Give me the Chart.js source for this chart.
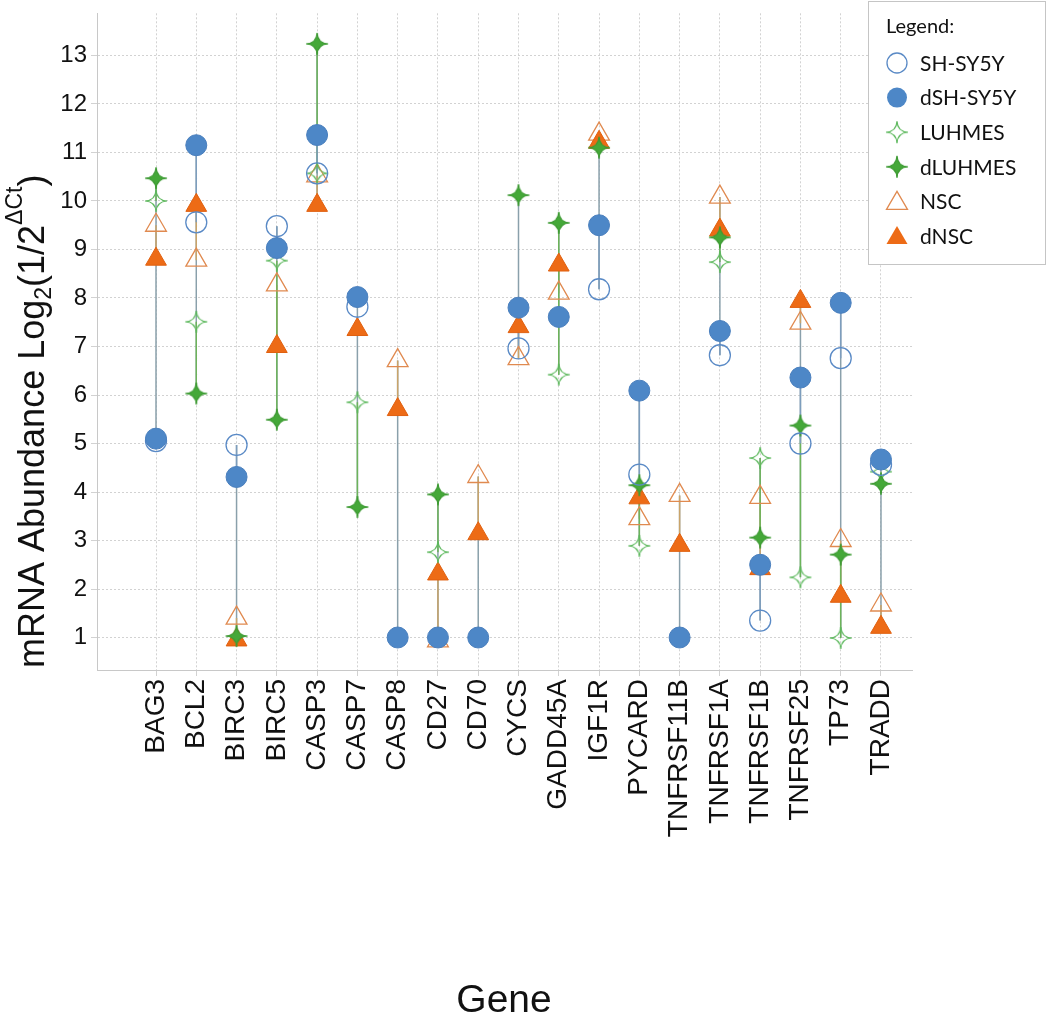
<!DOCTYPE html>
<html>
<head>
<meta charset="utf-8">
<script src="https://cdn.jsdelivr.net/npm/chart.js@4.4.1/dist/chart.umd.min.js"></script>
<style>
  html, body { margin: 0; background: #fff; }
  #wrap { position: relative; width: 1050px; height: 1021px; }
</style>
</head>
<body>
<div id="wrap"><canvas id="chart"></canvas></div>
<script>
/* mRNA abundance per gene, six cell states */
const genes = ['BAG3', 'BCL2', 'BIRC3', 'BIRC5', 'CASP3', 'CASP7', 'CASP8', 'CD27', 'CD70', 'CYCS',
  'GADD45A', 'IGF1R', 'PYCARD', 'TNFRSF11B', 'TNFRSF1A', 'TNFRSF1B', 'TNFRSF25', 'TP73', 'TRADD'];

const shsy5y  = [5.05, 9.56, 4.97, 9.48, 10.57, 7.82, null, null, null, 6.96, null, 8.18, 4.36, null, 6.82, 1.35, 5.00, 6.76, 4.56];
const dshsy5y = [5.10, 11.15, 4.31, 9.03, 11.36, 8.02, 1.00, 1.00, 1.00, 7.80, 7.61, 9.50, 6.09, 1.00, 7.32, 2.50, 6.36, 7.90, 4.67];
const luhmes  = [10.00, 7.51, null, 8.77, 10.57, 5.85, null, 2.76, null, null, 6.42, null, 2.89, null, 8.74, 4.70, 2.24, 0.99, 4.42];
const dluhmes = [10.47, 6.03, 1.03, 5.49, 13.24, 3.69, null, 3.95, null, 10.12, 9.55, 11.10, 4.14, null, 9.25, 3.06, 5.37, 2.71, 4.17];
const nsc     = [9.50, 8.78, 1.40, 8.27, 10.52, null, 6.71, 0.93, 4.32, 6.75, 8.10, 11.38, 3.45, 3.93, 10.08, 3.89, 7.48, 3.00, 1.67];
const dnsc    = [8.80, 9.91, 0.95, 7.00, 9.91, 7.35, 5.70, 2.31, 3.14, 7.41, 8.68, 11.21, 3.88, 2.90, 9.40, 2.42, 7.93, 1.85, 1.21];

const yTicks = [1, 2, 3, 4, 5, 6, 7, 8, 9, 10, 11, 12, 13];

const BLUE = '#4d87c7', BLUE_L = '#5a8ac6', GREEN = '#45a839', GREEN_L = '#5cb85c', ORANGE = '#ed6b16', ORANGE_L = '#e08a50';
const GRID = '#d2d2d2', AXIS = '#c8c8c8', INK = '#111';
const SANS = '"Liberation Sans", Arial, sans-serif';

function starImage(fill, stroke, r) {
  const c = document.createElement('canvas');
  const s = Math.ceil(r * 2 + 4);
  c.width = c.height = s;
  const g = c.getContext('2d');
  const m = s / 2, k = r * 0.05;
  g.beginPath();
  g.moveTo(m, m - r);
  g.quadraticCurveTo(m + k, m - k, m + r, m);
  g.quadraticCurveTo(m + k, m + k, m, m + r);
  g.quadraticCurveTo(m - k, m + k, m - r, m);
  g.quadraticCurveTo(m - k, m - k, m, m - r);
  g.closePath();
  if (fill) { g.fillStyle = fill; g.fill(); }
  g.lineWidth = 1.2; g.strokeStyle = stroke; g.stroke();
  return c;
}
const starOpen = starImage(null, GREEN_L, 11);
const starFull = starImage(GREEN, '#3d9a33', 11);

const pts = arr => arr.map((v, i) => ({ x: i, y: v }));

// vertical connector segments, broken by null points
function segs(groups) {
  const out = [];
  genes.forEach((g, i) => {
    const vals = groups.map(a => a[i]).filter(v => v != null);
    if (vals.length < 2) return;
    out.push({ x: i, y: Math.min(...vals) }, { x: i, y: Math.max(...vals) }, { x: i, y: null });
  });
  return out;
}
const lineDs = (data, color, order) => ({
  data, showLine: true, borderColor: color, borderWidth: 1.5, pointRadius: 0, spanGaps: false, order,
});

const legendItems = [
  ['SH-SY5Y', 'circle', false], ['dSH-SY5Y', 'circle', true],
  ['LUHMES', 'star', false], ['dLUHMES', 'star', true],
  ['NSC', 'triangle', false], ['dNSC', 'triangle', true],
];

const extras = {
  id: 'extras',
  afterDraw(chart) {
    const ctx = chart.ctx;
    ctx.save();
    // y title with subscript / superscript
    ctx.translate(44, 668);
    ctx.rotate(-Math.PI / 2);
    ctx.fillStyle = INK;
    ctx.textBaseline = 'alphabetic';
    ctx.textAlign = 'left';
    const big = '36px ' + SANS, small = '23px ' + SANS;
    let x = 0;
    const put = (t, f, dy) => { ctx.font = f; ctx.fillText(t, x, dy); x += ctx.measureText(t).width; };
    put('mRNA Abundance Log', big, 0);
    put('2', small, 7);
    put('(1/2', big, 0);
    put('\u0394Ct', small, -22);
    put(')', big, 0);
    ctx.restore();

    // x title
    ctx.save();
    ctx.fillStyle = INK;
    ctx.font = '39px ' + SANS;
    ctx.textAlign = 'center';
    ctx.textBaseline = 'middle';
    ctx.fillText('Gene', 504, 1001);
    ctx.restore();

    // legend box
    ctx.save();
    ctx.fillStyle = '#fff';
    ctx.fillRect(868, 1, 178, 264);
    ctx.setLineDash([1, 1]);
    ctx.strokeStyle = '#8a8a8a';
    ctx.lineWidth = 1;
    ctx.strokeRect(868.5, 1.5, 177, 263);
    ctx.setLineDash([]);
    ctx.fillStyle = INK;
    ctx.font = '20px Lato, "Open Sans", sans-serif';
    ctx.textBaseline = 'middle';
    ctx.fillText('Legend:', 886, 27);
    legendItems.forEach(([name, shape, filled], i) => {
      const cx = 897, cy = 63 + i * 34.6;
      ctx.lineWidth = 1.3;
      if (shape === 'circle') {
        ctx.beginPath(); ctx.arc(cx, cy, 10, 0, Math.PI * 2);
        if (filled) { ctx.fillStyle = BLUE; ctx.fill(); }
        else { ctx.strokeStyle = BLUE_L; ctx.stroke(); }
      } else if (shape === 'triangle') {
        ctx.beginPath();
        ctx.moveTo(cx, cy - 10); ctx.lineTo(cx + 10.5, cy + 8); ctx.lineTo(cx - 10.5, cy + 8); ctx.closePath();
        if (filled) { ctx.fillStyle = ORANGE; ctx.fill(); }
        else { ctx.strokeStyle = ORANGE_L; ctx.stroke(); }
      } else {
        const img = filled ? starFull : starOpen;
        ctx.drawImage(img, cx - img.width / 2, cy - img.height / 2);
      }
      ctx.fillStyle = INK;
      ctx.font = '21px Lato, "Open Sans", sans-serif';
      ctx.fillText(name, 920, cy + 1);
    });
    ctx.restore();
  },
};

new Chart(document.getElementById('chart'), {
  type: 'scatter',
  data: {
    datasets: [
      { label: 'dSH-SY5Y', data: pts(dshsy5y), pointStyle: 'circle', pointRadius: 10.5, backgroundColor: BLUE, borderColor: '#4a7fbd', borderWidth: 1, order: 0 },
      { label: 'SH-SY5Y', data: pts(shsy5y), pointStyle: 'circle', pointRadius: 10.5, backgroundColor: 'transparent', borderColor: BLUE_L, borderWidth: 1.3, order: 1 },
      { label: 'dLUHMES', data: pts(dluhmes), pointStyle: starFull, order: 2 },
      { label: 'LUHMES', data: pts(luhmes), pointStyle: starOpen, order: 3 },
      { label: 'dNSC', data: pts(dnsc), pointStyle: 'triangle', pointRadius: 12, backgroundColor: ORANGE, borderColor: '#e0600f', borderWidth: 1, order: 4 },
      { label: 'NSC', data: pts(nsc), pointStyle: 'triangle', pointRadius: 12, backgroundColor: 'transparent', borderColor: ORANGE_L, borderWidth: 1.3, order: 5 },
      lineDs(segs([shsy5y, dshsy5y]), '#7d9dbd', 10),
      lineDs(segs([luhmes, dluhmes]), '#6db35a', 11),
      lineDs(segs([nsc, dnsc]), '#c9a46a', 12),
      lineDs(segs([shsy5y, dshsy5y, luhmes, dluhmes, nsc, dnsc]), '#8aa0ab', 13),
    ],
  },
  options: {
    responsive: true, maintainAspectRatio: false, animation: false, events: [],
    layout: { padding: { top: 8, right: 138, left: 0, bottom: 0 } },
    plugins: { legend: { display: false }, tooltip: { enabled: false } },
    scales: {
      x: {
        type: 'linear', min: -1.465, max: 18.77,
        afterBuildTicks: s => { s.ticks = genes.map((g, i) => ({ value: i })); },
        afterFit: s => { s.height = 351; s.paddingLeft = 0; s.paddingRight = 0; },
        grid: { color: GRID, tickLength: 6, tickColor: GRID },
        border: { color: AXIS, dash: [2, 2] },
        ticks: {
          autoSkip: false, maxRotation: 90, minRotation: 90, padding: 3, color: INK,
          font: { family: SANS, size: 28 },
          callback: v => genes[v],
        },
      },
      y: {
        min: 0.33, max: 13.87,
        afterBuildTicks: s => { s.ticks = yTicks.map(v => ({ value: v })); },
        afterFit: s => { s.width = 97; s.paddingTop = 0; s.paddingBottom = 0; },
        grid: { color: GRID, tickLength: 6, tickColor: GRID },
        border: { color: AXIS, dash: [2, 2] },
        ticks: { padding: 4, color: INK, font: { family: SANS, size: 24 } },
      },
    },
  },
  plugins: [extras],
});
</script>
</body>
</html>
